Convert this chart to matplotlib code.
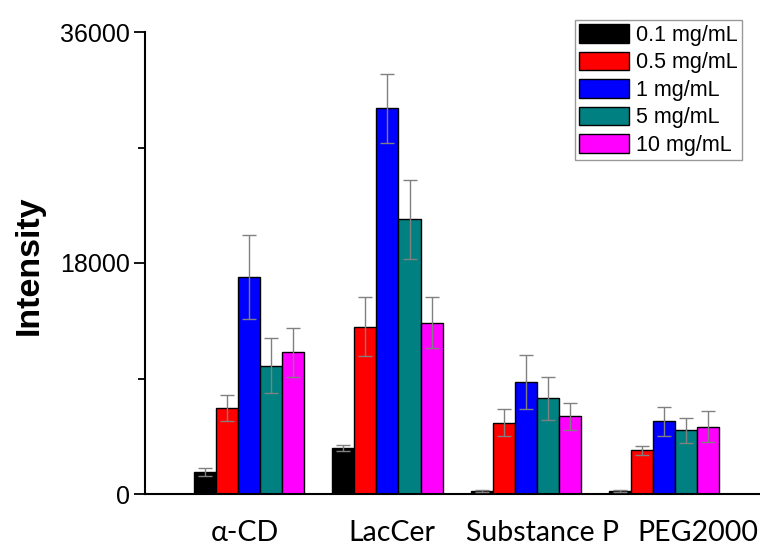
import matplotlib
matplotlib.use("Agg")
import matplotlib.pyplot as plt
import matplotlib.transforms as mtransforms
import numpy as np
from matplotlib.ticker import MultipleLocator

categories = ["α-CD", "LacCer", "Substance P", "PEG2000"]
series_labels = ["0.1 mg/mL", "0.5 mg/mL", "1 mg/mL", "5 mg/mL", "10 mg/mL"]
colors = ["#000000", "#FF0000", "#0000FF", "#008080", "#FF00FF"]

c01 = [1700, 3600, 250, 250]
c05 = [6700, 13050, 5550, 3400]
c1 = [16900, 30050, 8750, 5650]
c5 = [10000, 21400, 7450, 4950]
c10 = [11050, 13350, 6050, 5250]

e01 = [300, 230, 60, 60]
e05 = [1000, 2300, 1050, 350]
e1 = [3300, 2700, 2100, 1150]
e5 = [2150, 3100, 1700, 1000]
e10 = [1900, 2000, 1050, 1200]

values = [c01, c05, c1, c5, c10]
errors = [e01, e05, e1, e5, e10]

fig = plt.figure(figsize=(7.6, 5.48), dpi=100)
ax = fig.add_axes([145/760, 54/548, 615/760, 462/548])

x = np.arange(len(categories))
w = 0.159
for j, (vals, errs, col, lab) in enumerate(zip(values, errors, colors, series_labels)):
    ax.bar(x + (j - 2) * w, vals, width=w, color=col, edgecolor="black",
           linewidth=1.0, label=lab, zorder=2)
    ax.errorbar(x + (j - 2) * w, vals, yerr=errs, fmt="none", ecolor="#808080",
                elinewidth=1.0, capsize=5, capthick=1.0, zorder=3)

ax.set_xlim(-0.751, 3.69)
ax.set_ylim(0, 36000)
ax.set_yticks([0, 18000, 36000])
ax.yaxis.set_minor_locator(MultipleLocator(9000))
ax.set_xticks(x)
ax.set_xticklabels(categories, fontfamily="Lato", fontsize=20.5)
ax.tick_params(axis="x", length=0, pad=19)
ax.tick_params(axis="y", which="major", length=8, width=1.3, direction="out",
               labelsize=18, pad=3)
ax.tick_params(axis="y", which="minor", length=5, width=1.3, direction="out")
for lbl in ax.get_yticklabels():
    lbl.set_fontfamily("Liberation Sans")

# label text spacing in the original is slightly wider than the bar groups
label_shift_px = [-4, 4, 17, 33]
for lbl, dx in zip(ax.get_xticklabels(), label_shift_px):
    lbl.set_transform(lbl.get_transform() +
                      mtransforms.ScaledTranslation(dx / 100, 0, fig.dpi_scale_trans))

ax.spines["top"].set_visible(False)
ax.spines["right"].set_visible(False)
ax.spines["left"].set_linewidth(1.5)
ax.spines["bottom"].set_linewidth(1.5)

fig.text(29/760, 1 - 265/548, "Intensity", rotation=90, fontsize=24.5,
         fontweight="bold", fontfamily="Liberation Sans", ha="center", va="center")

leg = ax.legend(loc="upper right", bbox_to_anchor=(742/760, 1 - 20/548),
                bbox_transform=fig.transFigure,
                prop={"family": "Liberation Sans", "size": 15.5},
                handlelength=2.35, handleheight=0.95, handletextpad=0.3,
                labelspacing=0.27, borderpad=0.2, borderaxespad=0,
                fancybox=False, frameon=True)
leg.get_frame().set_edgecolor("#808080")
leg.get_frame().set_linewidth(1.0)

fig.savefig("out.png", dpi=100)
